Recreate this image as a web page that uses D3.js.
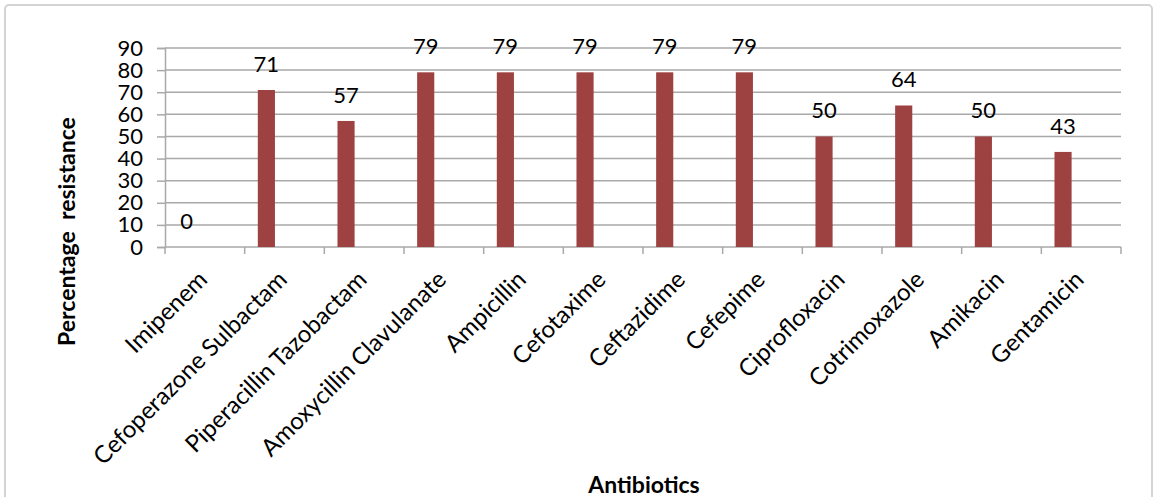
<!DOCTYPE html>
<html><head><meta charset="utf-8">
<script src="https://cdn.jsdelivr.net/npm/d3@7"></script>
<style>body{margin:0;background:#fff;} svg{display:block;}</style>
</head><body>
<script>
const categories = ["Imipenem","Cefoperazone Sulbactam","Piperacillin Tazobactam","Amoxycillin Clavulanate","Ampicillin","Cefotaxime","Ceftazidime","Cefepime","Ciprofloxacin","Cotrimoxazole","Amikacin","Gentamicin"];
const values = [0,71,57,79,79,79,79,79,50,64,50,43];
const yTicks = [0,10,20,30,40,50,60,70,80,90];

const W = 1159, H = 497;
const svg = d3.select("body").append("svg").attr("width", W).attr("height", H);
const font = "Lato, 'Open Sans', sans-serif";

svg.append("rect").attr("x",5).attr("y",5).attr("width",1147).attr("height",500)
  .attr("rx",4).attr("fill","#fff").attr("stroke","#d4d4d4").attr("stroke-width",2);

const pL = 165, pR = 1121, pT = 48, pB = 247;
const x = d3.scaleBand().domain(categories).range([pL, pR]).padding(0);
const y = d3.scaleLinear().domain([0, 90]).range([pB, pT]);

// gridlines
svg.append("g").selectAll("line").data(yTicks.filter(d => d > 0)).join("line")
  .attr("x1", pL).attr("x2", pR).attr("y1", d => y(d)).attr("y2", d => y(d))
  .attr("stroke", "#a9a9a9").attr("stroke-width", 1.5);

// y axis
const ya = svg.append("g").attr("transform", `translate(${pL},0)`)
  .call(d3.axisLeft(y).tickValues(yTicks).tickSize(8).tickPadding(14));
ya.select(".domain").attr("stroke", "#a9a9a9").attr("stroke-width", 1.5);
ya.selectAll(".tick line").attr("stroke", "#a9a9a9").attr("stroke-width", 1.5);
ya.selectAll("text").attr("font-family", font).attr("font-size", 22).attr("fill", "#000");

// x axis
const boundaries = categories.map(c => x(c)).concat([pR]);
const xa = svg.append("g");
xa.append("line").attr("x1", pL).attr("x2", pR).attr("y1", pB).attr("y2", pB)
  .attr("stroke", "#a9a9a9").attr("stroke-width", 1.5);
xa.selectAll("line.tk").data(boundaries).join("line").attr("class","tk")
  .attr("x1", d => d).attr("x2", d => d).attr("y1", pB).attr("y2", pB + 7)
  .attr("stroke", "#a9a9a9").attr("stroke-width", 1.5);
xa.selectAll("text").data(categories).join("text")
  .attr("transform", d => `translate(${x(d) + x.bandwidth()/2 + 4},${pB + 34}) rotate(-45)`)
  .attr("text-anchor", "end").attr("font-family", font).attr("font-size", 24).attr("fill", "#000")
  .text(d => d);

// bars
const bw = x.bandwidth();
svg.append("g").selectAll("rect").data(values).join("rect")
  .attr("x", (d, i) => x(categories[i]) + bw * 0.165)
  .attr("width", bw * 0.215)
  .attr("y", d => y(d)).attr("height", d => pB - y(d))
  .attr("fill", "#9e4141");

// data labels
svg.append("g").selectAll("text").data(values).join("text")
  .attr("x", (d, i) => x(categories[i]) + bw * 0.2725)
  .attr("y", d => y(d) - 18)
  .attr("text-anchor", "middle").attr("font-family", font).attr("font-size", 22).attr("fill", "#000")
  .text(d => d);

// axis titles
svg.append("text").attr("transform", `translate(75,${(118+345)/2}) rotate(-90)`)
  .attr("text-anchor", "middle").attr("font-family", font).attr("font-weight", "bold")
  .attr("font-size", 23).attr("fill", "#000").style("white-space","pre")
  .text("Percentage  resistance");
svg.append("text").attr("x", 644).attr("y", 493)
  .attr("text-anchor", "middle").attr("font-family", font).attr("font-weight", "bold")
  .attr("font-size", 23).attr("fill", "#000").text("Antibiotics");
</script>
</body></html>
